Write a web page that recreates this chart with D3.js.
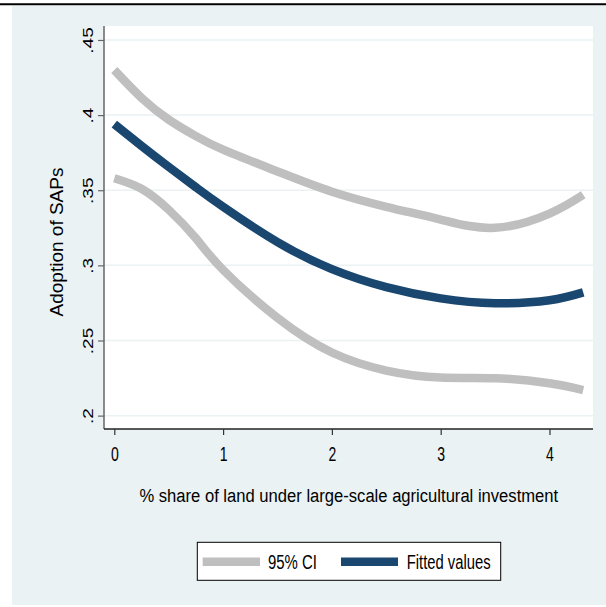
<!DOCTYPE html>
<html>
<head>
<meta charset="utf-8">
<script src="https://cdn.jsdelivr.net/npm/d3@7"></script>
<style>
  body { margin: 0; background: #ffffff; }
  text { font-family: "Liberation Sans", Arial, sans-serif; fill: #000; }
</style>
</head>
<body>
<div id="chart"></div>
<script>
var xValues = [0, 0.25, 0.5, 0.75, 1, 1.5, 2, 2.5, 3, 3.5, 4, 4.31];
var fitted  = [0.394, 0.3795, 0.3655, 0.352, 0.339, 0.3155, 0.2975, 0.2855, 0.278, 0.2748, 0.2768, 0.282];
var ciUpper = [0.430, 0.4115, 0.397, 0.386, 0.377, 0.3625, 0.349, 0.339, 0.3305, 0.325, 0.3345, 0.347];
var ciLower = [0.358, 0.351, 0.337, 0.318, 0.297, 0.265, 0.242, 0.230, 0.2253, 0.2249, 0.2215, 0.217];

var xTicks = [0, 1, 2, 3, 4];
var yTicks = [0.2, 0.25, 0.3, 0.35, 0.4, 0.45];
var legendLabels = ["95% CI", "Fitted values"];

// squeeze a horizontal text to a given width (keeps its left or centre point)
function squeeze(sel, target, anchor) {
    sel.each(function() {
        var len = this.getComputedTextLength();
        var k = target / len;
        var x = +this.getAttribute("x"), y = +this.getAttribute("y");
        d3.select(this)
            .attr("transform", "translate(" + x + "," + y + ") scale(" + k + ",1) translate(" + (-x) + "," + (-y) + ")");
    });
}

function init(){

    var w = 606;
    var h = 607;
    var left = 104, right = 593, top = 26, bottom = 429;
    var gray = "#bfbfbf";
    var navy = "#1a476f";
    var bg = "#eaf2f3";

    var xScale = d3.scaleLinear()
                    .domain([-0.0947, 4.4])
                    .range([left, right]);

    var yScale = d3.scaleLinear()
                    .domain([0.1911, 0.4593])
                    .range([bottom, top]);

    var svg = d3.select("#chart")
                .append("svg")
                .attr("width", w)
                .attr("height", h);

    // outer frame: black rule on top, light background
    svg.append("rect")
        .attr("x", 12).attr("y", 6)
        .attr("width", w - 12).attr("height", 599)
        .attr("fill", bg);
    svg.append("line")
        .attr("x1", 0).attr("x2", w)
        .attr("y1", 4.3).attr("y2", 4.3)
        .attr("stroke", "#000").attr("stroke-width", 2);

    // plot region
    svg.append("rect")
        .attr("x", left).attr("y", top)
        .attr("width", right - left).attr("height", bottom - top)
        .attr("fill", "#fff");

    // gridlines
    svg.selectAll("line.grid")
        .data(yTicks)
        .enter()
        .append("line")
        .attr("class", "grid")
        .attr("x1", left).attr("x2", right)
        .attr("y1", function(d) { return yScale(d); })
        .attr("y2", function(d) { return yScale(d); })
        .attr("stroke", bg)
        .attr("stroke-width", 1.5);

    // curves
    var line = d3.line()
        .x(function(d, i) { return xScale(xValues[i]); })
        .y(function(d) { return yScale(d); })
        .curve(d3.curveNatural);

    [ciUpper, ciLower].forEach(function(s) {
        svg.append("path")
            .attr("d", line(s))
            .attr("fill", "none")
            .attr("stroke", gray)
            .attr("stroke-width", 8.5);
    });
    svg.append("path")
        .attr("d", line(fitted))
        .attr("fill", "none")
        .attr("stroke", navy)
        .attr("stroke-width", 8.5);

    // y axis
    var yAxis = d3.axisLeft(yScale)
        .tickValues(yTicks)
        .tickSize(6)
        .tickFormat(function(d) { return d3.format(".2~f")(d).replace(/^0/, ""); });

    var gy = svg.append("g")
        .attr("transform", "translate(" + left + ",0)")
        .call(yAxis);
    gy.select(".domain").attr("stroke", "#666").attr("stroke-width", 1.5)
        .attr("d", "M0," + top + "V" + bottom);
    gy.selectAll(".tick line").attr("stroke", "#666").attr("stroke-width", 1.2);
    gy.selectAll(".tick text")
        .attr("x", null).attr("dy", null)
        .attr("font-size", 19)
        .attr("text-anchor", "middle")
        .attr("transform", "translate(-11,0) scale(0.75,1) rotate(-90)");

    // x axis
    var xAxis = d3.axisBottom(xScale)
        .tickValues(xTicks)
        .tickSize(6)
        .tickFormat(d3.format("d"));

    var gx = svg.append("g")
        .attr("transform", "translate(0," + bottom + ")")
        .call(xAxis);
    gx.select(".domain").attr("stroke", "#222").attr("stroke-width", 1.5)
        .attr("d", "M" + left + ",0H" + right);
    gx.selectAll(".tick line").attr("stroke", "#333").attr("stroke-width", 1.2);
    gx.selectAll(".tick text")
        .attr("y", null).attr("dy", null)
        .attr("font-size", 19.5)
        .attr("transform", "translate(0,32) scale(0.72,1)");

    // axis titles
    svg.append("text")
        .attr("x", 348.8).attr("y", 502)
        .attr("font-size", 19)
        .attr("text-anchor", "middle")
        .text("% share of land under large-scale agricultural investment")
        .call(squeeze, 419);

    svg.append("text")
        .attr("transform", "translate(63,242) rotate(-90)")
        .attr("font-size", 19)
        .attr("text-anchor", "middle")
        .text("Adoption of SAPs");

    // legend
    svg.append("rect")
        .attr("x", 197.3).attr("y", 542.3)
        .attr("width", 303.4).attr("height", 38)
        .attr("fill", "#fff")
        .attr("stroke", "#000").attr("stroke-width", 1);

    var legendItems = [
        {label: legendLabels[0], color: gray, x1: 202.7, x2: 260, tx: 268, len: 49},
        {label: legendLabels[1], color: navy, x1: 341, x2: 398, tx: 406.7, len: 84}
    ];
    var lg = svg.selectAll("g.legend")
        .data(legendItems)
        .enter()
        .append("g")
        .attr("class", "legend");
    lg.append("line")
        .attr("x1", function(d) { return d.x1; })
        .attr("x2", function(d) { return d.x2; })
        .attr("y1", 561.7).attr("y2", 561.7)
        .attr("stroke", function(d) { return d.color; })
        .attr("stroke-width", 8.5);
    lg.append("text")
        .attr("x", function(d) { return d.tx; })
        .attr("y", 569)
        .attr("font-size", 19.5)
        .text(function(d) { return d.label; })
        .each(function(d) { d3.select(this).call(squeeze, d.len); });
}
window.onload = init;
</script>
</body>
</html>
